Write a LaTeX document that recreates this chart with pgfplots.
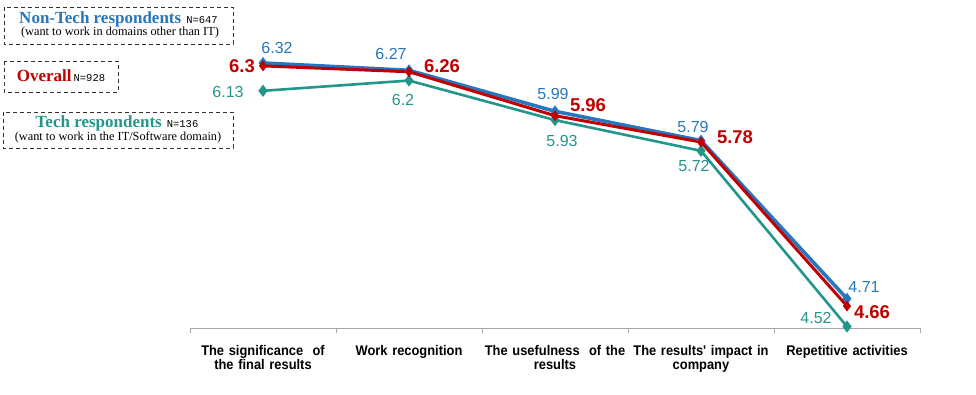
\documentclass[border=0pt]{standalone}
\usepackage{fontspec}
\setmainfont{Liberation Sans}
\newfontfamily\narrowfont[FakeStretch=0.92]{Liberation Sans}
\newfontfamily\seriffont{Liberation Serif}
\newfontfamily\monofont{Liberation Mono}
\usepackage{pgfplots}
\usepackage{pgfplotstable}
\pgfplotsset{compat=1.18}
\definecolor{ntblue}{RGB}{38,118,192}
\definecolor{ovred}{RGB}{192,0,0}
\definecolor{techteal}{RGB}{35,150,140}

\pgfplotstableread{
x y dx dy
0 6.32 14 15
1 6.27 -18 16
2 5.99 -2 17
3 5.79 -8 14
4 4.71 17 12
}\nontech
\pgfplotstableread{
x y dx dy
0 6.30 -21 0
1 6.26 33 6
2 5.96 33 11
3 5.78 34 5
4 4.66 25 -6
}\overall
\pgfplotstableread{
x y dx dy
0 6.13 -35 -1
1 6.20 -6 -19
2 5.93 7 -21
3 5.72 -7 -15
4 4.52 -31 9
}\tech

\begin{document}
\begin{tikzpicture}
\useasboundingbox (0,0) rectangle (976pt,395pt);
\begin{axis}[
  at={(190pt,67pt)}, anchor=south west,
  scale only axis, width=730pt, height=306pt,
  xmin=-0.5, xmax=4.5, ymin=4.51, ymax=6.6,
  hide y axis,
  axis x line=bottom,
  x axis line style={-, draw=gray!70, line width=0.9pt},
  xtick={0,1,2,3,4},
  xticklabels={{The significance\ \ of\\the final results},{Work recognition},{The usefulness\ \ of the\\results},{The results' impact in\\company},{Repetitive activities}},
  major tick length=0pt,
  extra x ticks={-0.5,0.5,1.5,2.5,3.5,4.5},
  extra x tick labels={},
  extra x tick style={major tick length=5pt, tick align=outside, tick style={draw=gray!70, line width=0.9pt}},
  xticklabel style={font=\narrowfont\bfseries\fontsize{14}{14}\selectfont, align=center, text width=150pt, anchor=north, yshift=-14pt},
  clip=false,
  /pgf/number format/assume math mode=true,
]
\addplot[techteal, line width=2.6pt, mark=diamond*, mark size=4pt,
  visualization depends on={\thisrow{dx} \as \myDX},
  visualization depends on={\thisrow{dy} \as \myDY},
  nodes near coords,
  every node near coord/.append style={anchor=center, inner sep=0pt, xshift=\myDX, yshift=\myDY, font=\fontsize{16}{18}\selectfont, text=techteal}]
  table[x=x,y=y] {\tech};
\addplot[ntblue, line width=3.6pt, mark=diamond*, mark size=3pt, mark options={fill=ntblue!60!ovred},
  visualization depends on={\thisrow{dx} \as \myDX},
  visualization depends on={\thisrow{dy} \as \myDY},
  nodes near coords,
  every node near coord/.append style={anchor=center, inner sep=0pt, xshift=\myDX, yshift=\myDY, font=\fontsize{16}{18}\selectfont, text=ntblue}]
  table[x=x,y=y] {\nontech};
\addplot[ovred, line width=3pt, mark=diamond*, mark size=3pt,
  visualization depends on={\thisrow{dx} \as \myDX},
  visualization depends on={\thisrow{dy} \as \myDY},
  nodes near coords,
  every node near coord/.append style={anchor=center, inner sep=0pt, xshift=\myDX, yshift=\myDY, font=\bfseries\fontsize{18.5}{20}\selectfont, text=ovred}]
  table[x=x,y=y] {\overall};
\end{axis}

% legend boxes
\draw[black!80, dash pattern=on 4pt off 3pt, line width=0.9pt] (4pt,388pt) rectangle (233pt,351pt);
\node[inner sep=0pt, anchor=base] at (118.5pt,371pt) {\seriffont\bfseries\fontsize{17}{20}\selectfont\color{ntblue}Non-Tech respondents\hspace{5pt}{\monofont\mdseries\fontsize{10.5}{12}\selectfont\color{black}N=647}};
\node[inner sep=0pt, anchor=base] at (120pt,359pt) {\seriffont\fontsize{12.3}{14}\selectfont (want to work in domains other than IT)};

\draw[black!80, dash pattern=on 4pt off 3pt, line width=0.9pt] (4pt,334pt) rectangle (118pt,303pt);
\node[inner sep=0pt, anchor=base] at (61pt,313pt) {\seriffont\bfseries\fontsize{17}{20}\selectfont\color{ovred}Overall\hspace{2pt}{\monofont\mdseries\fontsize{10.5}{12}\selectfont\color{black}N=928}};

\draw[black!80, dash pattern=on 4pt off 3pt, line width=0.9pt] (3pt,283pt) rectangle (233pt,247pt);
\node[inner sep=0pt, anchor=base] at (117pt,267pt) {\seriffont\bfseries\fontsize{17}{20}\selectfont\color{techteal}Tech respondents\hspace{5pt}{\monofont\mdseries\fontsize{10.5}{12}\selectfont\color{black}N=136}};
\node[inner sep=0pt, anchor=base] at (118pt,254pt) {\seriffont\fontsize{12.3}{14}\selectfont (want to work in the IT/Software domain)};
\end{tikzpicture}
\end{document}
